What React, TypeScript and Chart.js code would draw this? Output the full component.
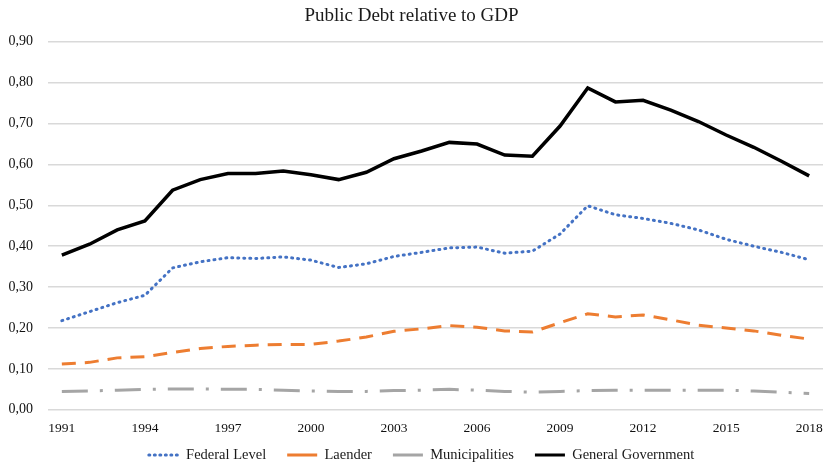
import React, { useEffect, useRef } from "react";
import { Chart, registerables } from "chart.js";

Chart.register(...registerables);

const years: string[] = [
  "1991", "1992", "1993", "1994", "1995", "1996", "1997", "1998", "1999", "2000",
  "2001", "2002", "2003", "2004", "2005", "2006", "2007", "2008", "2009", "2010",
  "2011", "2012", "2013", "2014", "2015", "2016", "2017", "2018",
];

const federal: number[] = [
  0.218, 0.24, 0.262, 0.28, 0.347, 0.362, 0.372, 0.37, 0.374, 0.366,
  0.348, 0.357, 0.375, 0.385, 0.396, 0.398, 0.383, 0.388, 0.43, 0.499,
  0.477, 0.468, 0.456, 0.44, 0.417, 0.4, 0.385, 0.367,
];

const laender: number[] = [
  0.112, 0.116, 0.127, 0.13, 0.14, 0.15, 0.155, 0.158, 0.16, 0.16,
  0.168, 0.178, 0.192, 0.198, 0.206, 0.202, 0.193, 0.19, 0.213, 0.235,
  0.227, 0.232, 0.22, 0.207, 0.2, 0.193, 0.182, 0.173,
];

const municipalities: number[] = [
  0.045, 0.046, 0.048, 0.05, 0.051, 0.051, 0.05, 0.05, 0.048, 0.046,
  0.045, 0.045, 0.047, 0.048, 0.05, 0.048, 0.045, 0.043, 0.045, 0.047,
  0.048, 0.048, 0.048, 0.048, 0.048, 0.046, 0.043, 0.04,
];

const general: number[] = [
  0.378, 0.405, 0.44, 0.462, 0.537, 0.563, 0.578, 0.578, 0.584, 0.575,
  0.563, 0.581, 0.614, 0.633, 0.654, 0.65, 0.623, 0.62, 0.694, 0.787,
  0.753, 0.757, 0.733, 0.705, 0.672, 0.642, 0.608, 0.572,
];

const seriesNames: string[] = ["Federal Level", "Laender", "Municipalities", "General Government"];
const titleText = "Public Debt relative to GDP";

const LEGEND_PAD = 21;
const LEGEND_FONT = 14.5;

const legendFix = {
  id: "legendFix",
  beforeLayout(chart: any) {
    const lg = chart.legend;
    if (lg && !lg.__patched) {
      const orig = lg.fit.bind(lg);
      lg.fit = function () {
        orig();
        this.height = 24;
      };
      lg.__patched = true;
    }
  },
  afterLayout(chart: any) {
    const lg = chart.legend;
    if (!lg) return;
    const textCenter = lg.top + 15;
    lg.top = textCenter - LEGEND_PAD - LEGEND_FONT / 2;
    lg.bottom = chart.height;
    lg.height = lg.bottom - lg.top;
    lg.left += 10;
    lg.right += 10;
  },
};

export default function App() {
  const ref = useRef<HTMLCanvasElement | null>(null);

  useEffect(() => {
    document.body.style.margin = "0";
    if (!ref.current) return;
    const serif = "'Liberation Serif', 'Times New Roman', serif";
    const chart = new Chart(ref.current, {
      type: "line",
      plugins: [legendFix],
      data: {
        labels: years,
        datasets: [
          {
            label: seriesNames[0],
            data: federal,
            borderColor: "#4472c4",
            backgroundColor: "#4472c4",
            borderWidth: 3,
            borderDash: [1, 5],
            borderCapStyle: "round",
            pointRadius: 0,
            pointStyle: "line",
            tension: 0,
          },
          {
            label: seriesNames[1],
            data: laender,
            borderColor: "#ed7d31",
            backgroundColor: "#ed7d31",
            borderWidth: 3,
            borderDash: [14, 9],
            pointRadius: 0,
            pointStyle: "line",
            tension: 0,
          },
          {
            label: seriesNames[2],
            data: municipalities,
            borderColor: "#a5a5a5",
            backgroundColor: "#a5a5a5",
            borderWidth: 3,
            borderDash: [26, 12, 3, 12],
            pointRadius: 0,
            pointStyle: "line",
            tension: 0,
          },
          {
            label: seriesNames[3],
            data: general,
            borderColor: "#000000",
            backgroundColor: "#000000",
            borderWidth: 3.5,
            pointRadius: 0,
            pointStyle: "line",
            tension: 0,
          },
        ],
      },
      options: {
        animation: false,
        responsive: false,
        maintainAspectRatio: false,
        layout: { padding: { left: 0, right: 4, top: 0, bottom: 0 } },
        plugins: {
          title: {
            display: true,
            text: titleText,
            color: "#1a1a1a",
            font: { family: serif, size: 19, weight: "normal" },
            padding: { top: 5, bottom: 14 },
          },
          legend: {
            position: "bottom",
            labels: {
              usePointStyle: true,
              pointStyleWidth: 30,
              boxHeight: 3,
              color: "#1a1a1a",
              font: { family: serif, size: LEGEND_FONT },
              padding: LEGEND_PAD,
              generateLabels: (c: any) => {
                const items = Chart.defaults.plugins.legend.labels.generateLabels(c);
                return items.map((it: any, i: number) => ({
                  ...it,
                  pointStyle: "line",
                  lineWidth: 3,
                  lineDash: i === 0 ? [1, 4.5] : [],
                  lineCap: i === 0 ? "round" : "butt",
                  strokeStyle: c.data.datasets[i].borderColor,
                  fillStyle: c.data.datasets[i].borderColor,
                }));
              },
            },
          },
          tooltip: { enabled: false },
        },
        scales: {
          x: {
            offset: true,
            grid: { display: false },
            border: { display: false },
            ticks: {
              autoSkip: false,
              maxRotation: 0,
              color: "#111111",
              font: { family: serif, size: 13.5 },
              callback: (_v: any, i: number) => (i % 3 === 0 ? years[i] : ""),
            },
          },
          y: {
            min: 0,
            max: 0.9,
            border: { display: false },
            grid: { color: "#d9d9d9", lineWidth: 1.5, drawTicks: false },
            afterFit: (scale: any) => {
              scale.width = 48;
            },
            ticks: {
              stepSize: 0.1,
              padding: 15,
              color: "#111111",
              font: { family: serif, size: 14 },
              callback: (v: any) => Number(v).toFixed(2).replace(".", ","),
            },
          },
        },
      },
    });
    return () => chart.destroy();
  }, []);

  return (
    <div style={{ width: 827, height: 464 }}>
      <canvas ref={ref} width={827} height={464} style={{ width: 827, height: 464 }} />
    </div>
  );
}
